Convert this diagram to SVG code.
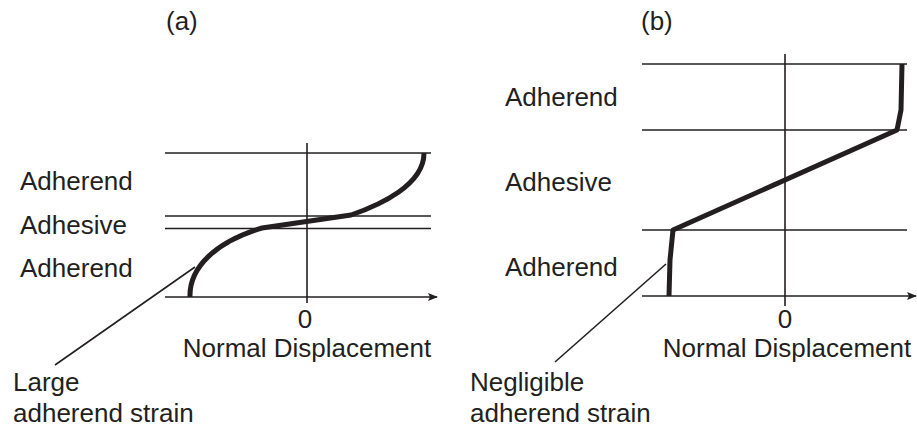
<svg xmlns="http://www.w3.org/2000/svg" width="917" height="430" viewBox="0 0 917 430">
  <style>
    .t { font-family: "Liberation Sans", Arial, sans-serif; font-size: 26px; fill: #231f20; }
    .thin { stroke: #231f20; stroke-width: 1.6; fill: none; }
    .thick { stroke: #231f20; stroke-width: 5; fill: none; stroke-linejoin: round; stroke-linecap: butt; }
  </style>
  <defs>
    <marker id="arr" markerWidth="10" markerHeight="8" refX="9" refY="4" orient="auto" markerUnits="userSpaceOnUse">
      <path d="M0,0 L10,4 L0,8 L2,4 Z" fill="#231f20"/>
    </marker>
  </defs>
  <rect width="917" height="430" fill="#ffffff"/>

  <g id="panel-a">
    <text class="t" x="166" y="30">(a)</text>
    <g id="a-labels">
      <text class="t" x="20" y="190">Adherend</text>
      <text class="t" x="20" y="234">Adhesive</text>
      <text class="t" x="20" y="277">Adherend</text>
    </g>
    <g id="a-axes">
      <line class="thin" x1="165" y1="153" x2="431" y2="153"/>
      <line class="thin" x1="165" y1="216" x2="431" y2="216"/>
      <line class="thin" x1="165" y1="228.5" x2="431" y2="228.5"/>
      <line class="thin" x1="307" y1="143" x2="307" y2="303"/>
      <line class="thin" x1="165" y1="297" x2="437" y2="297" marker-end="url(#arr)"/>
    </g>
    <path id="a-curve" class="thick" d="M424,153 C424,185 380,205 351,215 L262,228 C215,242 189,268 190,297"/>
    <text class="t" x="305" y="328" text-anchor="middle">0</text>
    <text class="t" x="307" y="357" text-anchor="middle">Normal Displacement</text>
    <text class="t" x="13" y="391">Large</text>
    <text class="t" x="13" y="422">adherend strain</text>
  </g>

  <g id="panel-b">
    <text class="t" x="641" y="30">(b)</text>
    <g id="b-labels">
      <text class="t" x="505" y="106">Adherend</text>
      <text class="t" x="505" y="191">Adhesive</text>
      <text class="t" x="505" y="276">Adherend</text>
    </g>
    <g id="b-axes">
      <line class="thin" x1="642" y1="64" x2="907" y2="64"/>
      <line class="thin" x1="642" y1="130" x2="907" y2="130"/>
      <line class="thin" x1="642" y1="230" x2="907" y2="230"/>
      <line class="thin" x1="785" y1="54" x2="785" y2="306"/>
      <line class="thin" x1="642" y1="296" x2="916" y2="296" marker-end="url(#arr)"/>
    </g>
    <path id="b-curve" class="thick" d="M902,64 L901,110 L897,130 L673,230 L670,260 L669,296"/>
    <text class="t" x="785" y="328" text-anchor="middle">0</text>
    <text class="t" x="787" y="357" text-anchor="middle">Normal Displacement</text>
    <text class="t" x="470" y="391">Negligible</text>
    <text class="t" x="470" y="422">adherend strain</text>
  </g>

  <g id="connectors">
    <line class="thin" x1="195" y1="267" x2="55" y2="365"/>
    <line class="thin" x1="666" y1="264" x2="555" y2="362"/>
  </g>
</svg>
